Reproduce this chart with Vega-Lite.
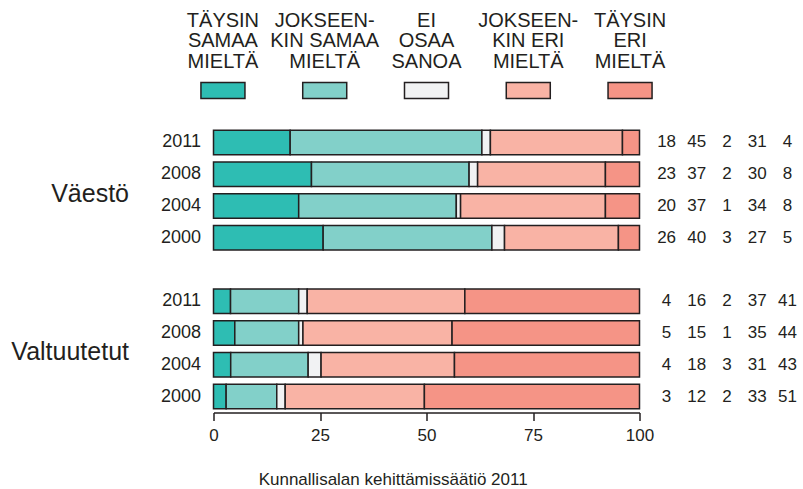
{
  "$schema": "https://vega.github.io/schema/vega-lite/v6.json",
  "autosize": {"type": "pad"},
  "padding": {"left": 10.5, "top": 10.5, "right": 2, "bottom": 0},
  "config": {"font": "Liberation Sans", "view": {"stroke": null}},
  "title": {"text": "Kunnallisalan kehittämissäätiö 2011", "orient": "bottom", "anchor": "middle", "fontSize": 17, "fontWeight": "normal", "color": "#231f20", "offset": 28, "dx": -12},
  "datasets": {
    "legend": [
      {"cat": "TÄYSIN\nSAMAA\nMIELTÄ"},
      {"cat": "JOKSEEN-\nKIN SAMAA\nMIELTÄ"},
      {"cat": "EI\nOSAA\nSANOA"},
      {"cat": "JOKSEEN-\nKIN ERI\nMIELTÄ"},
      {"cat": "TÄYSIN\nERI\nMIELTÄ"}
    ],
    "survey": [
      {"group": "Väestö", "row": "Väestö 2011", "k": 1, "cat": "TÄYSIN\nSAMAA\nMIELTÄ", "v": 18},
      {"group": "Väestö", "row": "Väestö 2011", "k": 2, "cat": "JOKSEEN-\nKIN SAMAA\nMIELTÄ", "v": 45},
      {"group": "Väestö", "row": "Väestö 2011", "k": 3, "cat": "EI\nOSAA\nSANOA", "v": 2},
      {"group": "Väestö", "row": "Väestö 2011", "k": 4, "cat": "JOKSEEN-\nKIN ERI\nMIELTÄ", "v": 31},
      {"group": "Väestö", "row": "Väestö 2011", "k": 5, "cat": "TÄYSIN\nERI\nMIELTÄ", "v": 4},
      {"group": "Väestö", "row": "Väestö 2008", "k": 1, "cat": "TÄYSIN\nSAMAA\nMIELTÄ", "v": 23},
      {"group": "Väestö", "row": "Väestö 2008", "k": 2, "cat": "JOKSEEN-\nKIN SAMAA\nMIELTÄ", "v": 37},
      {"group": "Väestö", "row": "Väestö 2008", "k": 3, "cat": "EI\nOSAA\nSANOA", "v": 2},
      {"group": "Väestö", "row": "Väestö 2008", "k": 4, "cat": "JOKSEEN-\nKIN ERI\nMIELTÄ", "v": 30},
      {"group": "Väestö", "row": "Väestö 2008", "k": 5, "cat": "TÄYSIN\nERI\nMIELTÄ", "v": 8},
      {"group": "Väestö", "row": "Väestö 2004", "k": 1, "cat": "TÄYSIN\nSAMAA\nMIELTÄ", "v": 20},
      {"group": "Väestö", "row": "Väestö 2004", "k": 2, "cat": "JOKSEEN-\nKIN SAMAA\nMIELTÄ", "v": 37},
      {"group": "Väestö", "row": "Väestö 2004", "k": 3, "cat": "EI\nOSAA\nSANOA", "v": 1},
      {"group": "Väestö", "row": "Väestö 2004", "k": 4, "cat": "JOKSEEN-\nKIN ERI\nMIELTÄ", "v": 34},
      {"group": "Väestö", "row": "Väestö 2004", "k": 5, "cat": "TÄYSIN\nERI\nMIELTÄ", "v": 8},
      {"group": "Väestö", "row": "Väestö 2000", "k": 1, "cat": "TÄYSIN\nSAMAA\nMIELTÄ", "v": 26},
      {"group": "Väestö", "row": "Väestö 2000", "k": 2, "cat": "JOKSEEN-\nKIN SAMAA\nMIELTÄ", "v": 40},
      {"group": "Väestö", "row": "Väestö 2000", "k": 3, "cat": "EI\nOSAA\nSANOA", "v": 3},
      {"group": "Väestö", "row": "Väestö 2000", "k": 4, "cat": "JOKSEEN-\nKIN ERI\nMIELTÄ", "v": 27},
      {"group": "Väestö", "row": "Väestö 2000", "k": 5, "cat": "TÄYSIN\nERI\nMIELTÄ", "v": 5},
      {"group": "Valtuutetut", "row": "Valtuutetut 2011", "k": 1, "cat": "TÄYSIN\nSAMAA\nMIELTÄ", "v": 4},
      {"group": "Valtuutetut", "row": "Valtuutetut 2011", "k": 2, "cat": "JOKSEEN-\nKIN SAMAA\nMIELTÄ", "v": 16},
      {"group": "Valtuutetut", "row": "Valtuutetut 2011", "k": 3, "cat": "EI\nOSAA\nSANOA", "v": 2},
      {"group": "Valtuutetut", "row": "Valtuutetut 2011", "k": 4, "cat": "JOKSEEN-\nKIN ERI\nMIELTÄ", "v": 37},
      {"group": "Valtuutetut", "row": "Valtuutetut 2011", "k": 5, "cat": "TÄYSIN\nERI\nMIELTÄ", "v": 41},
      {"group": "Valtuutetut", "row": "Valtuutetut 2008", "k": 1, "cat": "TÄYSIN\nSAMAA\nMIELTÄ", "v": 5},
      {"group": "Valtuutetut", "row": "Valtuutetut 2008", "k": 2, "cat": "JOKSEEN-\nKIN SAMAA\nMIELTÄ", "v": 15},
      {"group": "Valtuutetut", "row": "Valtuutetut 2008", "k": 3, "cat": "EI\nOSAA\nSANOA", "v": 1},
      {"group": "Valtuutetut", "row": "Valtuutetut 2008", "k": 4, "cat": "JOKSEEN-\nKIN ERI\nMIELTÄ", "v": 35},
      {"group": "Valtuutetut", "row": "Valtuutetut 2008", "k": 5, "cat": "TÄYSIN\nERI\nMIELTÄ", "v": 44},
      {"group": "Valtuutetut", "row": "Valtuutetut 2004", "k": 1, "cat": "TÄYSIN\nSAMAA\nMIELTÄ", "v": 4},
      {"group": "Valtuutetut", "row": "Valtuutetut 2004", "k": 2, "cat": "JOKSEEN-\nKIN SAMAA\nMIELTÄ", "v": 18},
      {"group": "Valtuutetut", "row": "Valtuutetut 2004", "k": 3, "cat": "EI\nOSAA\nSANOA", "v": 3},
      {"group": "Valtuutetut", "row": "Valtuutetut 2004", "k": 4, "cat": "JOKSEEN-\nKIN ERI\nMIELTÄ", "v": 31},
      {"group": "Valtuutetut", "row": "Valtuutetut 2004", "k": 5, "cat": "TÄYSIN\nERI\nMIELTÄ", "v": 43},
      {"group": "Valtuutetut", "row": "Valtuutetut 2000", "k": 1, "cat": "TÄYSIN\nSAMAA\nMIELTÄ", "v": 3},
      {"group": "Valtuutetut", "row": "Valtuutetut 2000", "k": 2, "cat": "JOKSEEN-\nKIN SAMAA\nMIELTÄ", "v": 12},
      {"group": "Valtuutetut", "row": "Valtuutetut 2000", "k": 3, "cat": "EI\nOSAA\nSANOA", "v": 2},
      {"group": "Valtuutetut", "row": "Valtuutetut 2000", "k": 4, "cat": "JOKSEEN-\nKIN ERI\nMIELTÄ", "v": 33},
      {"group": "Valtuutetut", "row": "Valtuutetut 2000", "k": 5, "cat": "TÄYSIN\nERI\nMIELTÄ", "v": 51}
    ]
  },
  "columns": 2,
  "bounds": "flush",
  "align": "each",
  "center": true,
  "spacing": {"row": 28, "column": 0},
  "concat": [
    {
      "width": 456,
      "height": 16,
      "data": {"name": "legend"},
      "encoding": {
        "x": {"field": "cat", "type": "nominal", "scale": {"type": "band", "domain": ["TÄYSIN\nSAMAA\nMIELTÄ", "JOKSEEN-\nKIN SAMAA\nMIELTÄ", "EI\nOSAA\nSANOA", "JOKSEEN-\nKIN ERI\nMIELTÄ", "TÄYSIN\nERI\nMIELTÄ"], "paddingInner": 0.5676, "paddingOuter": 0.024}, "axis": null}
      },
      "layer": [
        {
          "mark": {"type": "rect", "stroke": "#231f20", "strokeWidth": 1.5},
          "encoding": {
            "color": {"field": "cat", "type": "nominal", "scale": {"domain": ["TÄYSIN\nSAMAA\nMIELTÄ", "JOKSEEN-\nKIN SAMAA\nMIELTÄ", "EI\nOSAA\nSANOA", "JOKSEEN-\nKIN ERI\nMIELTÄ", "TÄYSIN\nERI\nMIELTÄ"], "range": ["#2ebdb3", "#82d0c9", "#f1f2f3", "#f9b3a5", "#f59486"]}, "legend": null}
          }
        },
        {
          "mark": {"type": "text", "baseline": "alphabetic", "align": "center", "dy": -64, "lineBreak": "\n", "lineHeight": 20.5, "font": "Liberation Sans Narrow, Arial Narrow, Liberation Sans", "fontSize": 20, "color": "#231f20"},
          "encoding": {"text": {"field": "cat", "type": "nominal"}}
        }
      ]
    },
    {
      "width": 145,
      "height": 16,
      "data": {"values": []},
      "mark": {"type": "text", "text": ""}
    },
    {
      "width": 426,
      "height": 286,
      "data": {"name": "survey"},
      "layer": [
        {
          "mark": {"type": "bar", "stroke": "#231f20", "strokeWidth": 1.5},
          "encoding": {
            "y": {"field": "row", "type": "nominal",
              "scale": {"domain": ["Väestö 2011", "Väestö 2008", "Väestö 2004", "Väestö 2000", " ", "Valtuutetut 2011", "Valtuutetut 2008", "Valtuutetut 2004", "Valtuutetut 2000"], "paddingInner": 0.229, "paddingOuter": 0.1145},
              "axis": {"title": null, "domain": false, "ticks": false, "tickSize": 0, "labelPadding": 13, "labelFontSize": 18, "labelColor": "#231f20",
                "values": ["Väestö 2011", "Väestö 2008", "Väestö 2004", "Väestö 2000", "Valtuutetut 2011", "Valtuutetut 2008", "Valtuutetut 2004", "Valtuutetut 2000"],
                "labelExpr": "substring(datum.value, length(datum.value) - 4)"}},
            "x": {"field": "v", "type": "quantitative", "stack": "normalize",
              "scale": {"domain": [0, 1], "nice": false},
              "axis": {"title": null, "values": [0, 0.25, 0.5, 0.75, 1], "labelExpr": "format(datum.value * 100, 'd')", "grid": false, "domainColor": "#231f20", "domainWidth": 1.5, "tickColor": "#231f20", "tickWidth": 1.5, "tickSize": 8, "labelPadding": 7, "labelFontSize": 17, "labelColor": "#231f20", "labelFlush": false}},
            "color": {"field": "cat", "type": "nominal", "scale": {"domain": ["TÄYSIN\nSAMAA\nMIELTÄ", "JOKSEEN-\nKIN SAMAA\nMIELTÄ", "EI\nOSAA\nSANOA", "JOKSEEN-\nKIN ERI\nMIELTÄ", "TÄYSIN\nERI\nMIELTÄ"], "range": ["#2ebdb3", "#82d0c9", "#f1f2f3", "#f9b3a5", "#f59486"]}, "legend": null},
            "order": {"field": "k", "type": "quantitative"}
          }
        },
        {
          "mark": {"type": "text", "text": "", "opacity": 0},
          "encoding": {
            "y": {"field": "group", "type": "nominal",
              "scale": {"type": "point", "domain": ["Väestö", "Valtuutetut"], "padding": 0.4},
              "axis": {"orient": "left", "title": null, "domain": false, "ticks": false, "tickSize": 0, "labelPadding": 85, "labelOffset": 3, "labelFontSize": 25, "labelColor": "#231f20"}}
          }
        }
      ],
      "resolve": {"scale": {"y": "independent"}, "axis": {"y": "independent"}}
    },
    {
      "width": 145,
      "height": 286,
      "data": {"name": "survey"},
      "mark": {"type": "text", "fontSize": 17, "color": "#231f20", "baseline": "middle", "align": "center"},
      "encoding": {
        "x": {"field": "cat", "type": "nominal", "scale": {"type": "point", "domain": ["TÄYSIN\nSAMAA\nMIELTÄ", "JOKSEEN-\nKIN SAMAA\nMIELTÄ", "EI\nOSAA\nSANOA", "JOKSEEN-\nKIN ERI\nMIELTÄ", "TÄYSIN\nERI\nMIELTÄ"], "padding": 0.4}, "axis": null},
        "y": {"field": "row", "type": "nominal", "scale": {"domain": ["Väestö 2011", "Väestö 2008", "Väestö 2004", "Väestö 2000", " ", "Valtuutetut 2011", "Valtuutetut 2008", "Valtuutetut 2004", "Valtuutetut 2000"], "paddingInner": 0.229, "paddingOuter": 0.1145}, "axis": null},
        "text": {"field": "v", "type": "quantitative"}
      }
    }
  ]
}
